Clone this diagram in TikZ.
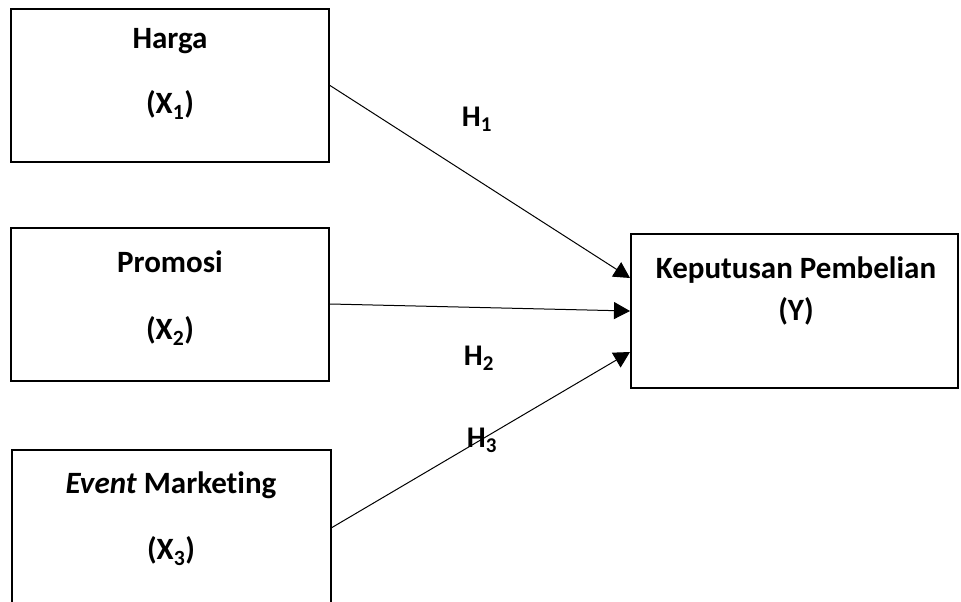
\documentclass[tikz,border=0pt]{standalone}
\usepackage{fontspec}
\setmainfont{Carlito}[Ligatures=NoCommon]
\usetikzlibrary{arrows.meta}

\begin{document}
\begin{tikzpicture}[
		x=1pt,y=-1pt,
		box/.style={draw,line width=2pt,minimum width=318pt,minimum height=153pt,inner sep=0pt},
		lbl/.style={font=\fontsize{31}{36}\selectfont\bfseries,inner sep=0pt},
		hlbl/.style={font=\fontsize{30}{35}\selectfont\bfseries,inner sep=0pt},
		path/.style={line width=1pt,-{Triangle[length=16pt,width=17pt]}}
		]
		\useasboundingbox (0,0) rectangle (961,602);
		\node[box] (harga) at (170,85.5) {};
		\node[box] (promosi) at (170,304) {};
		\node[box,minimum width=319pt,minimum height=155pt] (event) at (171.5,527.5) {};
		\node[box,minimum width=327pt,minimum height=154pt] (keputusan) at (794.5,311) {};
		\node[lbl] (hargaT) at (170,41) {Harga};
		\node[lbl] (hargaX) at (170,105) {(X\textsubscript{1})};
		\node[lbl] (promosiT) at (170,262) {Promosi};
		\node[lbl] (promosiX) at (170,331) {(X\textsubscript{2})};
		\node[lbl] (eventT) at (171,485) {\textit{Event} Marketing};
		\node[lbl] (eventX) at (171,551) {(X\textsubscript{3})};
		\node[lbl] (keputusanT) at (796,270) {Keputusan Pembelian};
		\node[lbl] (keputusanY) at (796,311) {(Y)};
		\draw[path] (harga.east) -- ([yshift=33pt]keputusan.west);
		\draw[path] (promosi.east) -- (keputusan.west);
		\draw[path] (event.east) -- ([yshift=-41pt]keputusan.west);
		\node[hlbl] (h1) at (477,119) {H\textsubscript{1}};
		\node[hlbl] (h2) at (479,358) {H\textsubscript{2}};
		\node[hlbl] (h3) at (482,440) {H\textsubscript{3}};
	\end{tikzpicture}
\end{document}
